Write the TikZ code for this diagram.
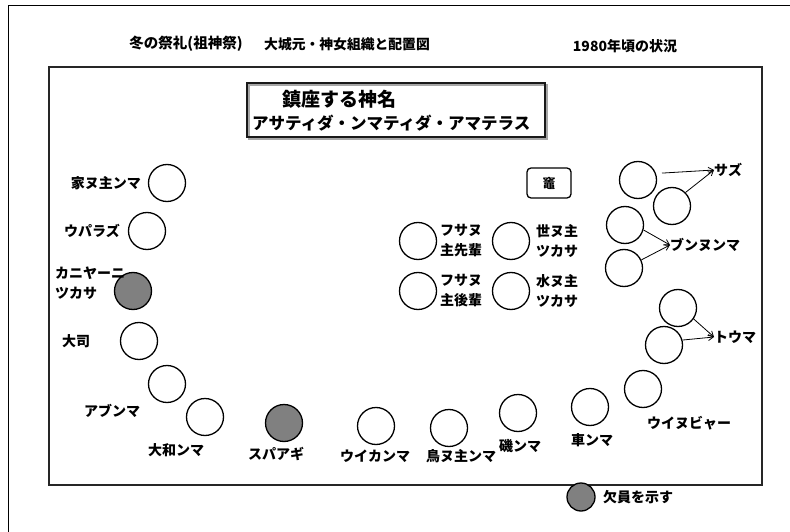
\documentclass[tikz,border=0pt]{standalone}
\usepackage{fontspec}
\setmainfont{Noto Sans CJK JP}
\usetikzlibrary{arrows.meta}
\definecolor{missgray}{RGB}{128,128,128}
\tikzset{
  circ/.style={circle, draw, line width=1.3pt, minimum size=37pt, inner sep=0pt},
  miss/.style={circ, fill=missgray},
  lbl/.style={font=\bfseries\fontsize{14}{20}\selectfont, inner sep=0pt, align=left},
  ttl/.style={font=\bfseries\fontsize{14.5}{18}\selectfont, inner sep=0pt},
  arr/.style={-{Straight Barb[length=5pt,width=6pt]}, line width=0.8pt},
}
\begin{document}
\begin{tikzpicture}[x=1pt,y=-1pt]
\useasboundingbox (0,0) rectangle (790,532);
% page frame (top and left)
\draw[line width=1pt] (8,532) -- (8,6) -- (790,6);
% inner frame
\node[draw=black!85, line width=1.7pt, minimum width=713pt, minimum height=418pt, inner sep=0pt] (frame) at (405.5,276) {};
% titles
\node[ttl] (t1) at (186,44) {冬の祭礼(祖神祭)};
\node[ttl, font=\bfseries\fontsize{13.8}{18}\selectfont] (t2) at (347,44) {大城元・神女組織と配置図};
\node[ttl, font=\bfseries\fontsize{14}{18}\selectfont] (t3) at (625,46) {1980年頃の状況};
% deity box
\node[draw=black!35, line width=2pt, minimum width=298pt, minimum height=54pt, inner sep=0pt] (shadow) at (398,112) {};
\node[draw=black!90, line width=1.6pt, minimum width=298pt, minimum height=54pt, inner sep=0pt] (titlebox) at (396,110) {};
\node[lbl, anchor=west, font=\bfseries\fontsize{19}{22}\selectfont] (god1) at (282,99) {鎮座する神名};
\node[lbl, anchor=west, font=\bfseries\fontsize{16.5}{20}\selectfont] (god2) at (252,123) {アサティダ・ンマティダ・アマテラス};
% left arc
\node[circ] (c1) at (167,183) {};
\node[lbl, anchor=east] (l1) at (141,183) {家ヌ主ンマ};
\node[circ] (c2) at (147,231) {};
\node[lbl, anchor=east] (l2) at (120,231) {ウパラズ};
\node[miss] (c3) at (133,291) {};
\node[lbl, anchor=west] (l3) at (55,283) {カニヤーニ\\ツカサ};
\node[circ] (c4) at (139,341) {};
\node[lbl, anchor=west] (l4) at (62,341) {大司};
\node[circ] (c5) at (167,384) {};
\node[lbl] (l5) at (112,411) {アブンマ};
\node[circ] (c6) at (205,417) {};
\node[lbl] (l6) at (176,450) {大和ンマ};
% bottom row
\node[miss] (c7) at (284,423) {};
\node[lbl] (l7) at (276,454) {スパアギ};
\node[circ] (c8) at (376,426) {};
\node[lbl] (l8) at (375,456) {ウイカンマ};
\node[circ] (c9) at (449,428) {};
\node[lbl] (l9) at (461,456) {鳥ヌ主ンマ};
\node[circ] (c10) at (518,413) {};
\node[lbl] (l10) at (520,446) {磯ンマ};
\node[circ] (c11) at (590,407) {};
\node[lbl] (l11) at (592,440) {車ンマ};
\node[circ] (c12) at (643,389) {};
\node[lbl] (l12) at (689,423) {ウイヌビャー};
% right arc
\node[circ] (c13) at (664,345) {};
\node[circ] (c14) at (678,308) {};
\node[lbl, anchor=west] (l13) at (714,337) {トウマ};
\node[circ] (c15) at (624,268) {};
\node[circ] (c16) at (625,225) {};
\node[lbl, anchor=west] (l15) at (670,245) {ブンヌンマ};
\node[circ] (c17) at (638,180) {};
\node[circ] (c18) at (672,206) {};
\node[lbl, anchor=west] (l17) at (714,170) {サズ};
\draw[arr, shorten <=6pt] (c17.20) -- (l17.west);
\draw[arr] (c18.45) -- (l17.west);
\draw[arr] (c16.-15) -- (l15.west);
\draw[arr] (c15.25) -- (l15.west);
\draw[arr] (c14.-35) -- (l13.west);
\draw[arr] (c13.15) -- (l13.west);
% centre group
\node[circ] (m1) at (418,241) {};
\node[lbl, anchor=west] (n1) at (440,241) {フサヌ\\主先輩};
\node[circ] (m2) at (418,291) {};
\node[lbl, anchor=west] (n2) at (440,291) {フサヌ\\主後輩};
\node[circ] (m3) at (511,241) {};
\node[lbl, anchor=west] (n3) at (536,241) {世ヌ主\\ツカサ};
\node[circ] (m4) at (511,291) {};
\node[lbl, anchor=west] (n4) at (536,291) {水ヌ主\\ツカサ};
% hearth box
\node[draw, rounded corners=4pt, line width=1.3pt, minimum width=44pt, minimum height=30pt, inner sep=0pt, font=\bfseries\fontsize{13}{15}\selectfont] (kamado) at (549,183) {竈};
% legend
\node[miss, minimum size=28pt] (legc) at (581,497) {};
\node[lbl, anchor=west] (legl) at (603,497) {欠員を示す};
\end{tikzpicture}
\end{document}
